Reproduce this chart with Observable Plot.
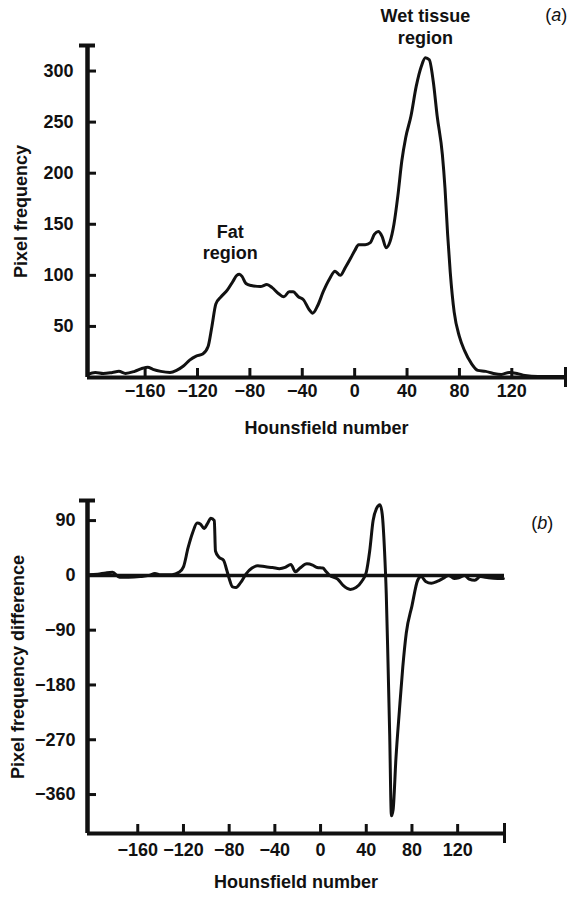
<!DOCTYPE html>
<html>
<head>
<meta charset="utf-8">
<script src="https://cdn.jsdelivr.net/npm/d3@7"></script>
<script src="https://cdn.jsdelivr.net/npm/@observablehq/plot@0.6"></script>
<style>
  body { margin: 0; background: #fff; }
  #chart { width: 567px; height: 898px; overflow: hidden; background: #fff; }
  #chart svg { display: block; }
</style>
</head>
<body>
<div id="chart"></div>
<script>
// ---------- Data ----------
// (a) pixel frequency histogram
const hounsfieldA = [-204,-198,-192,-185,-180,-175,-168,-162,-158,-154,-148,-141,-136,-131,-126,-121,-116,-112,-109,-106,-102,-97,-93,-90,-88,-86,-83,-79,-72,-67,-63,-58,-54,-50,-47,-43,-39,-35,-32,-28,-24,-19,-15,-11,-7,-3,0,3,8,12,15,18,21,24,27,30,33,36,39,43,47,51,54,57,60,63,67,69,71,73,76,80,84,89,94,100,106,112,118,124,130,140,150,160];
const freqA =       [3,5,4,5,6,4,6,9,10,8,6,5,7,11,17,21,23,30,50,72,79,86,94,100,101,99,92,90,89,91,88,82,79,84,84,79,76,67,63,71,84,97,104,100,108,117,124,130,130,132,140,143,138,127,133,150,178,212,235,256,285,305,313,311,290,256,218,185,140,103,64,40,26,14,7,6,4,3,5,4,2,1,1,1];

// (b) pixel frequency difference
const hounsfieldB = [-204,-195,-188,-182,-176,-168,-158,-150,-145,-140,-130,-124,-120,-116,-112,-108,-105,-102,-99,-96,-93,-92,-89,-85,-82,-80,-77,-74,-70,-65,-60,-55,-48,-42,-36,-31,-26,-22,-18,-12,-7,-3,2,5,8,15,20,26,31,36,40,43,46,49,52,54,56,57.5,59,60.5,62,63.5,66,69,72,75,80,85,88,92,97,102,108,112,117,121,126,130,135,140,147,155,160];
const diffB =       [1,2,4,5,-3,-3,-2,0,3,1,1,5,14,45,70,86,84,77,85,94,90,40,30,25,8,-5,-19,-20,-12,3,12,16,14,13,11,13,18,6,12,19,17,13,12,6,0,-6,-17,-23,-20,-10,5,40,90,110,116,100,40,-30,-140,-260,-395,-385,-300,-222,-150,-95,-50,-8,-2,-10,-13,-10,-4,0,-5,-4,0,-6,-8,-2,-4,-5,-5];

// Axis ticks, domains, texts
const xTicks = [-160, -120, -80, -40, 0, 40, 80, 120];
const yTicksA = [50, 100, 150, 200, 250, 300];
const yTicksB = [90, 0, -90, -180, -270, -360];
const xDomain = [-204, 161];
const yDomainA = [0, 325];
const yDomainB = [-424, 123];
const xTitle = "Hounsfield number";
const yTitleA = "Pixel frequency";
const yTitleB = "Pixel frequency difference";
const notesA = [
  {text: "Wet tissue\nregion", x: 54, y: 344},
  {text: "Fat\nregion", x: -95, y: 133}
];
const panelA = [{text: "(a)", x: 154, y: 355}];
const panelB = [{text: "(b)", x: 194, y: 85}];

// ---------- Rendering ----------
const ink = "#111";
const fontFamily = "'Liberation Sans', Arial, Helvetica, sans-serif";
const tableA = hounsfieldA.map((h, i) => ({h, v: freqA[i]}));
const tableB = hounsfieldB.map((h, i) => ({h, v: diffB[i]}));

function panel({data, yDomain, yTicks, yTitle, notes, tag, height, margins, xPad, yPad, xTitleDy, yTitleDx, zeroLine}) {
  const [mt, mr, mb, ml] = margins;
  const plotW = 567 - ml - mr;
  const plotH = height - mt - mb;
  const marks = [
    Plot.axisX({ticks: xTicks, tickSize: 0, tickPadding: xPad, label: null, fill: ink}),
    Plot.axisY({ticks: yTicks, tickSize: 0, tickPadding: yPad, label: null, fill: ink}),
    // inward tick marks
    Plot.tickX(xTicks, {x: d => d, insetTop: plotH - 9, stroke: ink, strokeWidth: 3}),
    Plot.tickY(yTicks, {y: d => d, insetRight: plotW - 9, stroke: ink, strokeWidth: 3}),
    // frame lines
    Plot.ruleX([xDomain[0]], {stroke: ink, strokeWidth: 4.5}),
    Plot.ruleY([yDomain[0]], {stroke: ink, strokeWidth: 4}),
    // end caps
    Plot.tickY([yDomain[1]], {y: d => d, insetRight: plotW - 16, dx: -8, stroke: ink, strokeWidth: 4}),
    Plot.tickX([xDomain[1]], {x: d => d, insetTop: plotH - 20, dy: 10, stroke: ink, strokeWidth: 3}),
    Plot.line(data, {x: "h", y: "v", curve: "monotone-x", stroke: ink, strokeWidth: 3, strokeLinejoin: "round"}),
    Plot.text(notes, {x: "x", y: "y", text: "text", lineHeight: 1.2, fill: ink}),
    Plot.text(tag, {x: "x", y: "y", text: "text", fill: ink, fontWeight: "normal"}),
    Plot.text([xTitle], {text: d => d, frameAnchor: "bottom", dy: xTitleDy, fill: ink}),
    Plot.text([yTitle], {text: d => d, frameAnchor: "left", textAnchor: "middle", lineAnchor: "middle", dx: yTitleDx, rotate: -90, fill: ink})
  ];
  if (zeroLine) marks.splice(6, 0, Plot.ruleY([0], {stroke: ink, strokeWidth: 3.5}));
  const svg = Plot.plot({
    width: 567,
    height,
    marginTop: mt, marginRight: mr, marginBottom: mb, marginLeft: ml,
    x: {domain: xDomain},
    y: {domain: yDomain},
    style: {fontFamily, fontSize: "18px", fontWeight: "bold", background: "white", overflow: "visible"},
    marks
  });
  // italic letter inside the panel tag, e.g. "(a)"
  svg.querySelectorAll("text").forEach(t => {
    const s = t.textContent;
    if (/^\([ab]\)$/.test(s)) {
      t.textContent = "";
      const ns = "http://www.w3.org/2000/svg";
      const a = document.createElementNS(ns, "tspan"); a.textContent = "(";
      const b = document.createElementNS(ns, "tspan"); b.textContent = s[1]; b.setAttribute("font-style", "italic");
      const c = document.createElementNS(ns, "tspan"); c.textContent = ")";
      t.append(a, b, c);
    }
  });
  return svg;
}

const chart = document.getElementById("chart");
chart.append(panel({
  data: tableA, yDomain: yDomainA, yTicks: yTicksA, yTitle: yTitleA,
  notes: notesA, tag: panelA, height: 445, margins: [45, 2, 68, 87],
  xPad: 7, yPad: 14, xTitleDy: 56, yTitleDx: -66, zeroLine: false
}));
chart.append(panel({
  data: tableB, yDomain: yDomainB, yTicks: yTicksB, yTitle: yTitleB,
  notes: [], tag: panelB, height: 453, margins: [55, 63, 65, 87],
  xPad: 10, yPad: 12, xTitleDy: 54, yTitleDx: -69, zeroLine: true
}));
</script>
</body>
</html>
